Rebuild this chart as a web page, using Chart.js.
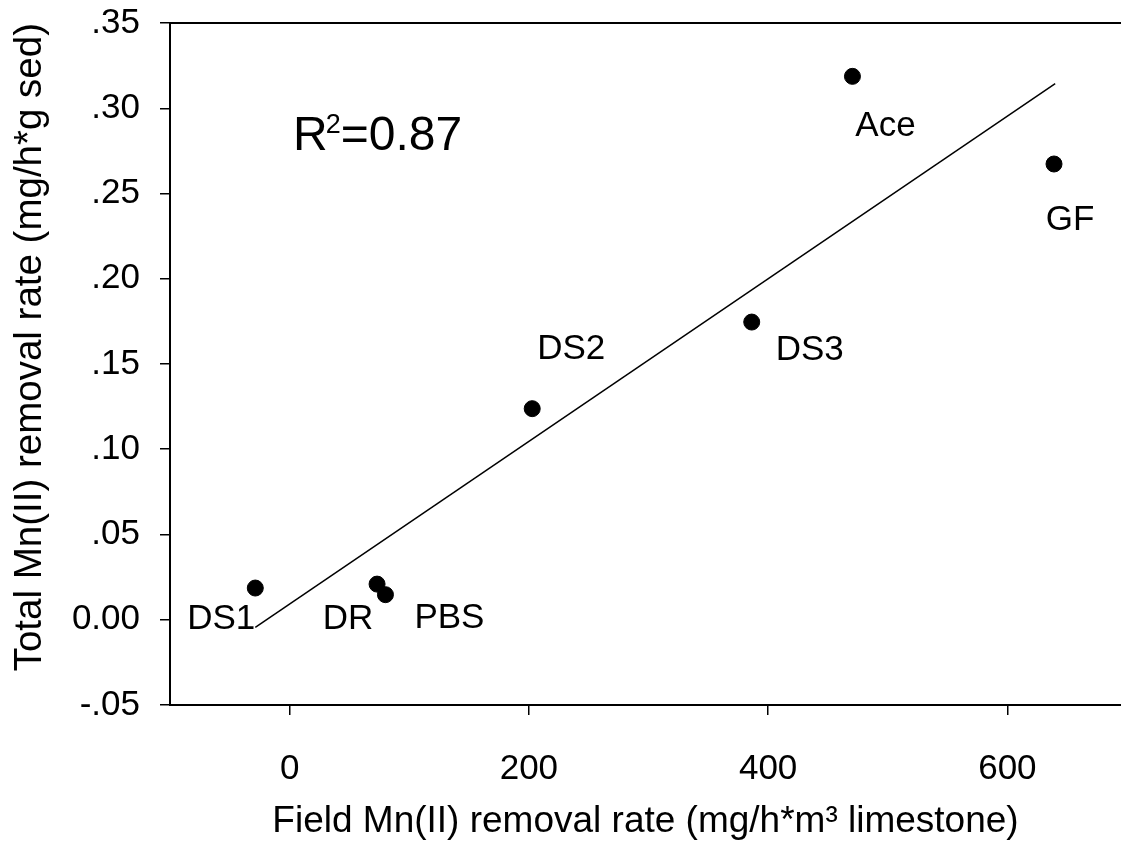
<!DOCTYPE html>
<html>
<head>
<meta charset="utf-8">
<script src="https://cdn.jsdelivr.net/npm/chart.js@4.4.1/dist/chart.umd.min.js"></script>
<style>
  html, body { margin: 0; padding: 0; background: #fff; }
  #wrap { width: 1121px; height: 844px; }
</style>
</head>
<body>
<div id="wrap"><canvas id="chart" width="1121" height="844"></canvas></div>
<script>
// values
const siteNames = ['DS1', 'DR', 'PBS', 'DS2', 'DS3', 'Ace', 'GF'];
const fieldRate = [-28.7, 73.1, 80.1, 202.8, 386.3, 470.5, 639];
const totalRate = [0.0186, 0.0209, 0.0147, 0.1238, 0.1746, 0.3187, 0.2673];

// regression line end points
const fitX = [-28.7, 640];
const fitY = [-0.0045, 0.3144];

const xTicks = [0, 200, 400, 600];
const yTicks = [-0.05, 0, 0.05, 0.10, 0.15, 0.20, 0.25, 0.30, 0.35];
const yTickLabels = ['-.05', '0.00', '.05', '.10', '.15', '.20', '.25', '.30', '.35'];

const FONT = "'Liberation Sans', Arial, sans-serif";
Chart.defaults.color = '#000';
Chart.defaults.font.family = FONT;

// pixel offsets of each site label from its point
const labelOffsets = [[-34, 31], [-29, 35], [64, 24], [39, -59], [58, 28], [33, 50], [16, 56]];

const pointLabels = {
    id: 'pointLabels',
    afterDatasetsDraw(chart) {
        const ctx = chart.ctx;
        const meta = chart.getDatasetMeta(0);
        ctx.save();
        ctx.fillStyle = '#000';
        ctx.font = '35px ' + FONT;
        ctx.textAlign = 'center';
        ctx.textBaseline = 'middle';
        meta.data.forEach((pt, i) => {
            const [dx, dy] = labelOffsets[i];
            ctx.fillText(siteNames[i], pt.x + dx, pt.y + dy);
        });

        // R^2 note, superscript drawn smaller and raised
        const x0 = chart.chartArea.left + 123;
        const base = chart.chartArea.top + 127;
        ctx.textAlign = 'left';
        ctx.textBaseline = 'alphabetic';
        ctx.font = '48px ' + FONT;
        ctx.fillText('R', x0, base);
        const rw = ctx.measureText('R').width;
        ctx.font = '27px ' + FONT;
        ctx.fillText('2', x0 + rw - 2, base - 17);
        const sw = ctx.measureText('2').width;
        ctx.font = '48px ' + FONT;
        ctx.fillText('=0.87', x0 + rw - 2 + sw, base);
        ctx.restore();
    }
};

const tickGrid = {
    display: true,
    drawOnChartArea: false,
    drawTicks: true,
    tickLength: 10,
    color: '#000',
    lineWidth: 1.5
};

function noPad(scale) {
    scale.paddingTop = 0;
    scale.paddingBottom = 0;
    scale.paddingLeft = 0;
    scale.paddingRight = 0;
}

new Chart(document.getElementById('chart'), {
    type: 'scatter',
    data: {
        datasets: [
            {
                label: 'Sites',
                data: fieldRate.map((x, i) => ({ x: x, y: totalRate[i] })),
                backgroundColor: '#000',
                borderColor: '#000',
                pointRadius: 8,
                pointHoverRadius: 8
            },
            {
                type: 'line',
                label: 'Fit',
                data: fitX.map((x, i) => ({ x: x, y: fitY[i] })),
                borderColor: '#000',
                borderWidth: 1.5,
                pointRadius: 0,
                fill: false
            }
        ]
    },
    options: {
        responsive: false,
        animation: false,
        devicePixelRatio: 1,
        layout: { padding: 0, autoPadding: false },
        plugins: {
            legend: { display: false },
            tooltip: { enabled: false }
        },
        scales: {
            x: {
                type: 'linear',
                position: 'bottom',
                min: -100,
                max: 695,
                afterBuildTicks: axis => { axis.ticks = xTicks.map(v => ({ value: v })); },
                afterFit: scale => { scale.height = 139; noPad(scale); },
                grid: tickGrid,
                border: { display: true, color: '#000', width: 2 },
                ticks: {
                    font: { size: 35 },
                    color: '#000',
                    padding: 33,
                    maxRotation: 0,
                    callback: v => String(v)
                },
                title: {
                    display: true,
                    text: 'Field Mn(II) removal rate (mg/h*m³ limestone)',
                    font: { size: 37 },
                    color: '#000',
                    padding: { top: 0, bottom: 0 }
                }
            },
            x2: {
                type: 'linear',
                position: 'top',
                min: 0,
                max: 1,
                afterFit: scale => { scale.height = 23; noPad(scale); },
                grid: { display: false, drawTicks: false },
                border: { display: true, color: '#000', width: 2 },
                ticks: { display: false }
            },
            y: {
                type: 'linear',
                min: -0.05,
                max: 0.35,
                afterBuildTicks: axis => { axis.ticks = yTicks.map(v => ({ value: v })); },
                afterFit: scale => { scale.width = 170; noPad(scale); },
                grid: tickGrid,
                border: { display: true, color: '#000', width: 2 },
                ticks: {
                    font: { size: 35 },
                    color: '#000',
                    padding: 20,
                    callback: (v, i) => yTickLabels[i]
                },
                title: {
                    display: true,
                    text: 'Total Mn(II) removal rate (mg/h*g sed)',
                    font: { size: 38.5 },
                    color: '#000',
                    align: 'end',
                    padding: { top: 7, bottom: 0 }
                }
            }
        }
    },
    plugins: [pointLabels]
});
</script>
</body>
</html>
